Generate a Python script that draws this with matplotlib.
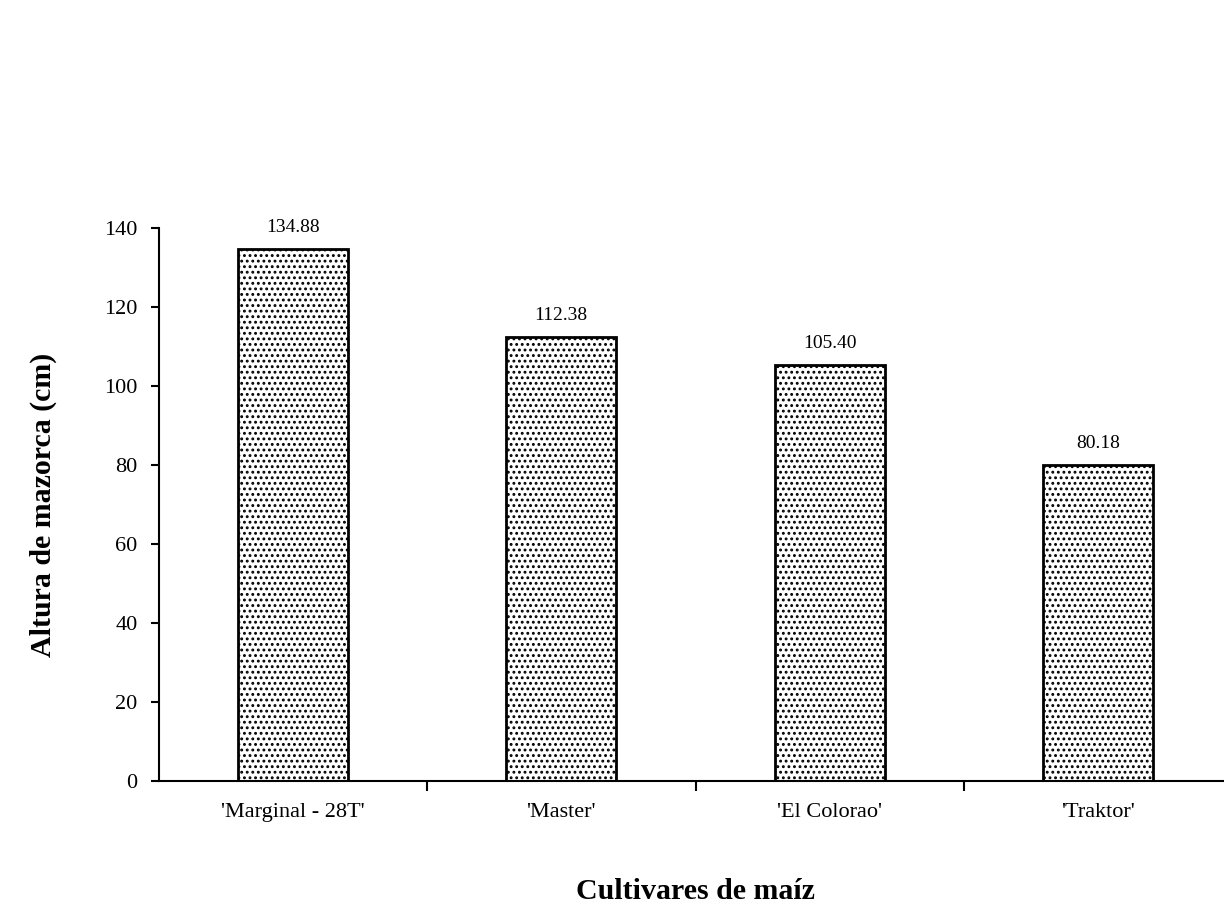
import matplotlib
matplotlib.use("Agg")
import matplotlib.pyplot as plt
import numpy as np

categories = ["'Marginal - 28T'", "'Master'", "'El Colorao'", "'Traktor'"]
values = [134.88, 112.38, 105.40, 80.18]
value_labels = ["134.88", "112.38", "105.40", "80.18"]
yticks = [0, 20, 40, 60, 80, 100, 120, 140]

plt.rcParams['font.family'] = ['Liberation Serif', 'DejaVu Serif']
plt.rcParams['hatch.linewidth'] = 1.3

fig = plt.figure(figsize=(12.24, 9.21), dpi=100)
ax = fig.add_axes([0.1295, 0.152, 0.8775, 0.600])

x = np.arange(len(categories))
bars = ax.bar(x, values, width=0.41, facecolor='white', edgecolor='black',
              linewidth=2.0, hatch='...')
for xi, v, lab in zip(x, values, value_labels):
    ax.text(xi, v + 4.3, lab, ha='center', va='baseline', fontsize=14)

ax.set_xlim(-0.5, len(categories) - 0.5)
ax.set_ylim(0, 140)
ax.set_yticks(yticks)
ax.tick_params(axis='y', labelsize=16, length=6, width=1.5, pad=9, direction='out')
ax.set_xticks(x)
ax.set_xticklabels(categories, fontsize=16)
ax.tick_params(axis='x', which='major', length=0, pad=16)
ax.set_xticks(np.arange(0.5, len(categories) - 0.5, 1), minor=True)
ax.tick_params(axis='x', which='minor', length=7, width=1.5, direction='out')

for s in ['top', 'right']:
    ax.spines[s].set_visible(False)
for s in ['left', 'bottom']:
    ax.spines[s].set_linewidth(1.5)

ax.set_ylabel('Altura de mazorca (cm)', fontsize=21.5, fontweight='bold', labelpad=34)
ax.set_xlabel('Cultivares de maíz', fontsize=21.5, fontweight='bold', labelpad=40)

fig.savefig('out.png', dpi=100)
